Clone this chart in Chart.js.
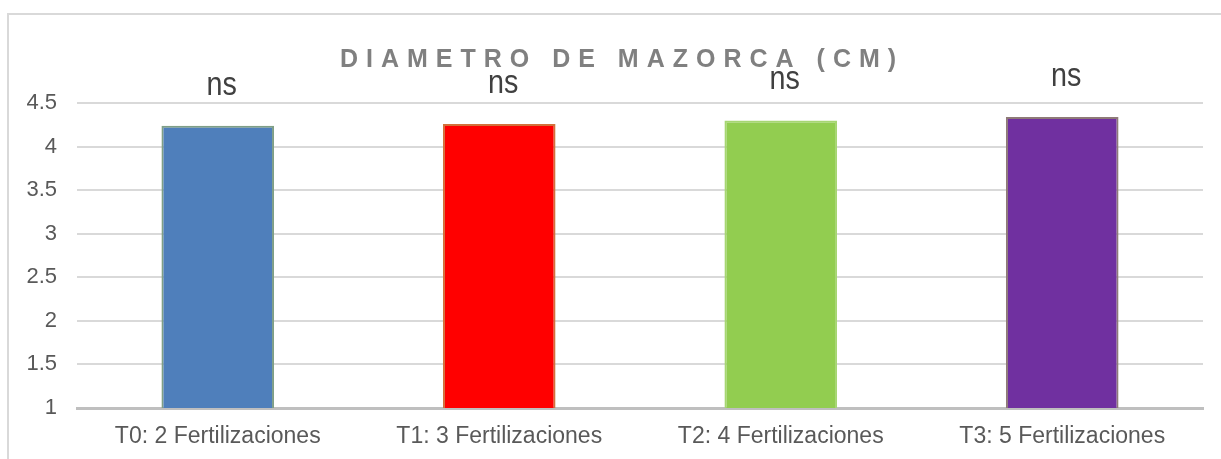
<!DOCTYPE html>
<html>
<head>
<meta charset="utf-8">
<script src="https://cdn.jsdelivr.net/npm/chart.js@4"></script>
<style>
  html, body { margin: 0; padding: 0; background: #fff; }
  #wrap { position: relative; width: 1221px; height: 459px; }
</style>
</head>
<body>
<div id="wrap"><canvas id="chart" width="1221" height="459"></canvas></div>
<script>
/* Diametro de mazorca (cm) - bar chart */

const categories = ['T0: 2 Fertilizaciones', 'T1: 3 Fertilizaciones', 'T2: 4 Fertilizaciones', 'T3: 5 Fertilizaciones'];
const diametro = [4.24, 4.26, 4.30, 4.34];
const significance = ['ns', 'ns', 'ns', 'ns'];
const yTicks = [1, 1.5, 2, 2.5, 3, 3.5, 4, 4.5];
const chartTitle = 'DIAMETRO DE MAZORCA (CM)';

const barColors = ['#4f7fbb', '#ff0000', '#92cd50', '#7030a0'];
const edgeColors = ['#7f9f86', '#d2703a', '#a6d672', '#8e7a78'];

const FONT = '"Liberation Sans", Arial, sans-serif';

// frame + title
const framePlugin = {
    id: 'frame',
    beforeDraw(chart) {
        const ctx = chart.ctx;
        ctx.save();
        ctx.strokeStyle = '#d9d9d9';
        ctx.lineWidth = 2;
        ctx.beginPath();
        ctx.moveTo(8, chart.height);
        ctx.lineTo(8, 14);
        ctx.lineTo(chart.width, 14);
        ctx.stroke();
        ctx.restore();
    },
    afterDraw(chart) {
        const ctx = chart.ctx;
        ctx.save();
        ctx.font = 'bold 25px ' + FONT;
        ctx.fillStyle = '#808080';
        ctx.letterSpacing = '8px';
        ctx.textAlign = 'center';
        ctx.textBaseline = 'middle';
        ctx.fillText(chartTitle, 622, 60);
        ctx.restore();
    }
};

// "ns" labels above each bar (narrow glyphs, like the original)
const sigPlugin = {
    id: 'sig',
    afterDatasetsDraw(chart) {
        const ctx = chart.ctx;
        const meta = chart.getDatasetMeta(0);
        meta.data.forEach((bar, i) => {
            ctx.save();
            ctx.translate(bar.x + 4, bar.y - 31);
            ctx.scale(0.87, 1);
            ctx.font = '33px ' + FONT;
            ctx.fillStyle = '#404040';
            ctx.textAlign = 'center';
            ctx.textBaseline = 'alphabetic';
            ctx.fillText(significance[i], 0, 0);
            ctx.restore();
        });
    }
};

new Chart(document.getElementById('chart'), {
    type: 'bar',
    data: {
        labels: categories,
        datasets: [{
            data: diametro,
            backgroundColor: barColors,
            borderColor: edgeColors,
            borderWidth: 2,
            borderSkipped: 'bottom',
            barPercentage: 0.4,
            categoryPercentage: 1
        }]
    },
    options: {
        responsive: false,
        animation: false,
        layout: { padding: { top: 103, right: 18, bottom: 0, left: 0 } },
        plugins: {
            legend: { display: false },
            title: { display: false },
            tooltip: { enabled: false }
        },
        scales: {
            x: {
                grid: { display: false, drawTicks: false },
                border: { color: '#bfbfbf', width: 3 },
                ticks: {
                    color: '#595959',
                    padding: 15,
                    font: { family: FONT, size: 23 }
                },
                afterFit(scale) { scale.height = 51; }
            },
            y: {
                min: 1,
                max: 4.5,
                afterBuildTicks(scale) { scale.ticks = yTicks.map(v => ({ value: v })); },
                grid: { color: '#d9d9d9', lineWidth: 2, drawTicks: false },
                border: { display: false },
                ticks: {
                    color: '#595959',
                    padding: 20,
                    font: { family: FONT, size: 22 },
                    callback: v => String(v)
                },
                afterFit(scale) { scale.width = 77; }
            }
        }
    },
    plugins: [framePlugin, sigPlugin]
});
</script>
</body>
</html>
